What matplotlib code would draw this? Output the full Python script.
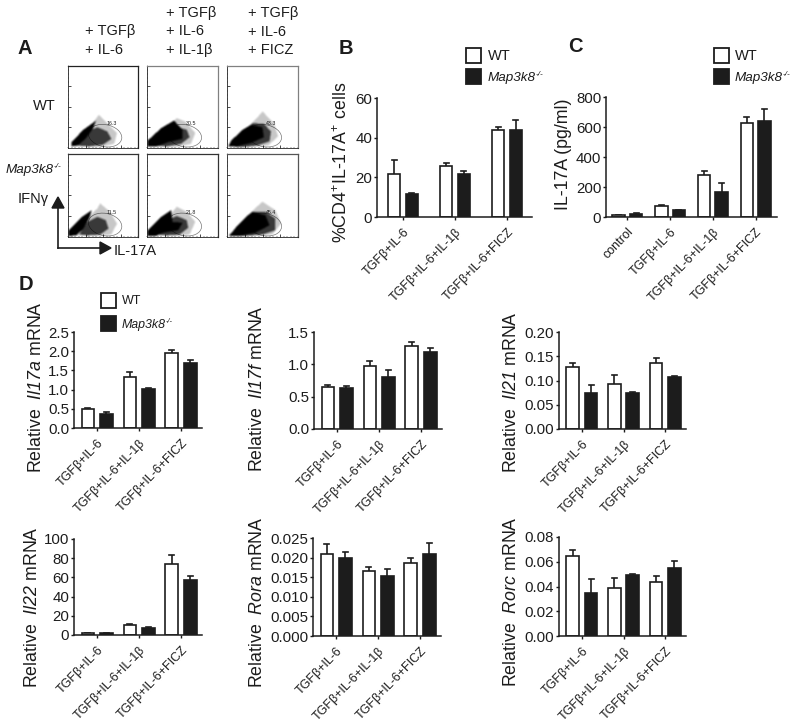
import matplotlib
matplotlib.use("Agg")
import matplotlib.pyplot as plt
from matplotlib.patches import Polygon, Ellipse, Rectangle
from matplotlib.path import Path
import numpy as np

plt.rcParams['font.family'] = ['Liberation Sans', 'DejaVu Sans']
plt.rcParams['mathtext.fontset'] = 'custom'
plt.rcParams['mathtext.rm'] = 'Liberation Sans'
plt.rcParams['mathtext.it'] = 'Liberation Sans:italic'
plt.rcParams['mathtext.cal'] = 'Liberation Sans:italic'
plt.rcParams['mathtext.default'] = 'regular'

INK = '#1c1c1c'

# category labels
groups3 = ['TGFβ+IL-6', 'TGFβ+IL-6+IL-1β', 'TGFβ+IL-6+FICZ']
groups4 = ['control'] + groups3

# bar heights and top of the error bars
b_wt = [21.5, 25.5, 44]
b_wt_top = [28.5, 27, 45.5]
b_ko = [11.5, 21.5, 44]
b_ko_top = [12, 23, 49]

c_wt = [12, 75, 283, 625]
c_wt_top = [15, 80, 305, 665]
c_ko = [22, 47, 170, 638]
c_ko_top = [25, 50, 230, 722]

il17a_wt = [0.50, 1.33, 1.95]
il17a_wt_top = [0.52, 1.45, 2.03]
il17a_ko = [0.37, 1.01, 1.70]
il17a_ko_top = [0.42, 1.05, 1.78]

il17f_wt = [0.65, 0.98, 1.29]
il17f_wt_top = [0.68, 1.05, 1.35]
il17f_ko = [0.64, 0.80, 1.19]
il17f_ko_top = [0.67, 0.91, 1.25]

il21_wt = [0.127, 0.093, 0.137]
il21_wt_top = [0.136, 0.112, 0.147]
il21_ko = [0.075, 0.075, 0.108]
il21_ko_top = [0.091, 0.076, 0.110]

il22_wt = [2, 10.5, 73.5]
il22_wt_top = [2.5, 11.5, 83]
il22_ko = [2, 7.5, 57.5]
il22_ko_top = [2.5, 8.5, 61]

rora_wt = [0.0210, 0.0165, 0.0187]
rora_wt_top = [0.0235, 0.0177, 0.0200]
rora_ko = [0.0200, 0.0152, 0.0208]
rora_ko_top = [0.0215, 0.0172, 0.0238]

rorc_wt = [0.065, 0.039, 0.0435]
rorc_wt_top = [0.0695, 0.047, 0.0485]
rorc_ko = [0.035, 0.049, 0.055]
rorc_ko_top = [0.046, 0.0505, 0.0605]

# flow panels: percentages in the gates and hand read outlines of the clouds
gate_values = ['16.3', '30.5', '43.3', '11.5', '21.8', '45.4']
flow_sparse = [
    [(.10, .02), (.30, .24), (.44, .40), (.56, .30), (.70, .18), (.66, .05), (.45, .01)],
    [(.03, .02), (.30, .26), (.42, .36), (.54, .32), (.68, .18), (.62, .05), (.40, .01)],
    [(.03, .02), (.30, .26), (.42, .36), (.50, .44), (.66, .30), (.72, .14), (.58, .03), (.30, .01)],
    [(.10, .02), (.30, .24), (.42, .34), (.46, .40), (.60, .30), (.70, .16), (.62, .03), (.40, .01)],
    [(.08, .02), (.30, .24), (.42, .36), (.56, .30), (.68, .18), (.60, .03), (.40, .01)],
    [(.03, .02), (.30, .26), (.42, .36), (.50, .42), (.68, .32), (.76, .16), (.64, .03), (.30, .01)],
]
flow_cloud = [
    [(.14, .03), (.28, .20), (.42, .25), (.56, .20), (.62, .11), (.50, .04), (.30, .02)],
    [(.06, .03), (.28, .21), (.42, .25), (.56, .22), (.60, .13), (.48, .05), (.28, .02)],
    [(.03, .02), (.20, .17), (.36, .30), (.52, .29), (.62, .20), (.60, .08), (.42, .03), (.20, .01)],
    [(.16, .03), (.28, .18), (.42, .24), (.54, .20), (.58, .10), (.46, .03), (.28, .02)],
    [(.14, .03), (.28, .20), (.42, .25), (.56, .20), (.58, .11), (.46, .03), (.28, .02)],
    [(.03, .02), (.22, .19), (.38, .30), (.54, .30), (.68, .22), (.68, .08), (.50, .03), (.20, .01)],
]
flow_dense = [
    [(.05, .02), (.05, .07), (.22, .22), (.40, .33), (.36, .24), (.26, .12), (.14, .03)],
    [(.01, .02), (.01, .09), (.20, .24), (.38, .33), (.50, .22), (.50, .11), (.30, .07), (.14, .02)],
    [(.02, .02), (.06, .09), (.22, .22), (.34, .28), (.50, .25), (.52, .13), (.34, .06), (.14, .02)],
    [(.01, .01), (.01, .08), (.20, .24), (.34, .32), (.30, .22), (.22, .10), (.12, .02)],
    [(.01, .01), (.01, .08), (.20, .24), (.34, .32), (.36, .18), (.50, .17), (.44, .08), (.22, .05), (.12, .01)],
    [(.03, .01), (.14, .13), (.28, .25), (.36, .30), (.54, .26), (.60, .14), (.40, .05), (.16, .01)],
]
flow_frame = ['#222222', '#808080', '#808080', '#333333', '#333333', '#555555']

fig = plt.figure(figsize=(8.0, 7.28), dpi=100)


def axes_px(left, top, right, bottom):
    return fig.add_axes([left / 800, 1 - bottom / 728, (right - left) / 800, (bottom - top) / 728])


def bar_panel(box, labels, wt, wt_top, ko, ko_top, ymax, yticks, yfmt, xlim, off, w):
    ax = axes_px(*box)
    x = np.arange(len(labels))
    ax.bar(x - off, wt, w, color='white', edgecolor=INK, linewidth=1.2, zorder=2)
    ax.bar(x + off, ko, w, color=INK, edgecolor=INK, linewidth=1.2, zorder=2)
    for xs, val, top in ((x - off, wt, wt_top), (x + off, ko, ko_top)):
        for xi, v, t in zip(xs, val, top):
            ax.plot([xi, xi], [v, t], color=INK, lw=1.2, zorder=1, solid_capstyle='butt')
            ax.plot([xi - w * 0.2, xi + w * 0.2], [t, t], color=INK, lw=1.2, zorder=1)
    ax.set_xlim(*xlim)
    ax.set_ylim(0, ymax)
    ax.set_yticks(yticks)
    ax.set_yticklabels([yfmt % t for t in yticks], fontsize=10.8, color=INK)
    ax.set_xticks(x)
    ax.set_xticklabels(labels, fontsize=9, rotation=46, ha='right', va='top',
                       rotation_mode='anchor', color=INK)
    ax.tick_params(axis='y', length=2.5, width=1, pad=1, color=INK)
    ax.tick_params(axis='x', length=2.5, width=1, pad=4, color=INK)
    for s in ('top', 'right'):
        ax.spines[s].set_visible(False)
    for s in ('left', 'bottom'):
        ax.spines[s].set_linewidth(1.1)
        ax.spines[s].set_color(INK)
    ax.patch.set_alpha(0)
    return ax


def cloud_image(i):
    # grey levels from the outlines, softened a little so the edges are not hard
    gx, gy = np.meshgrid((np.arange(140) + .5) / 140, (np.arange(164) + .5) / 164)
    pts = np.column_stack([gx.ravel(), gy.ravel()])
    level = np.zeros(gx.shape)
    for outline, v in ((flow_sparse[i], .22), (flow_cloud[i], .78), (flow_dense[i], 1.0)):
        level[Path(outline).contains_points(pts).reshape(gx.shape)] = v
    kernel = np.ones(5) / 5
    level = np.apply_along_axis(lambda r: np.convolve(r, kernel, mode='same'), 0, level)
    level = np.apply_along_axis(lambda r: np.convolve(r, kernel, mode='same'), 1, level)
    rgba = np.zeros(gx.shape + (4,))
    rgba[..., 3] = level
    return rgba


def flow_panel(box, i):
    ax = axes_px(*box)
    ax.add_patch(Ellipse((.53, .15), .48, .27, angle=-8, fill=False, ec='#777777', lw=0.5, zorder=1))
    ax.imshow(cloud_image(i), extent=(0, 1, 0, 1), origin='lower', aspect='auto',
              interpolation='bilinear', zorder=2)
    ax.set_xlim(0, 1)
    ax.set_ylim(0, 1)
    ax.text(.62, .30, gate_values[i], fontsize=3.8, ha='center', va='center', color=INK, zorder=5)
    ax.set_xticks([0.25, 0.5, 0.75])
    ax.set_yticks([0.25, 0.5, 0.75])
    ax.set_xticks(np.linspace(0, 1, 21), minor=True)
    ax.set_yticks(np.linspace(0, 1, 21), minor=True)
    ax.tick_params(which='major', direction='in', length=2, width=0.5, labelleft=False, labelbottom=False)
    ax.tick_params(which='minor', direction='in', length=1, width=0.3)
    for s in ('top', 'right'):
        ax.spines[s].set_color(flow_frame[i])
        ax.spines[s].set_linewidth(0.9)
    for s in ('left', 'bottom'):
        ax.spines[s].set_color('#222222')
        ax.spines[s].set_linewidth(0.6)


# A
flow_boxes = [(68, 66, 138, 148), (147, 66, 218, 148), (227, 66, 298, 148),
              (68, 154, 138, 237), (147, 154, 218, 237), (227, 154, 298, 237)]
for i, box in enumerate(flow_boxes):
    flow_panel(box, i)

# B, C
bar_panel((377, 98, 532, 217), groups3, b_wt, b_wt_top, b_ko, b_ko_top, 60,
          [0, 20, 40, 60], '%d', (-0.5, 2.48), 0.17, 0.23)
bar_panel((606, 97, 777, 217), groups4, c_wt, c_wt_top, c_ko, c_ko_top, 800,
          [0, 200, 400, 600, 800], '%d', (-0.5, 3.5), 0.205, 0.29)

# D
d_xlim = (-0.55, 2.5)
bar_panel((74, 332, 202, 428), groups3, il17a_wt, il17a_wt_top, il17a_ko, il17a_ko_top, 2.5,
          [0, 0.5, 1, 1.5, 2, 2.5], '%.1f', d_xlim, 0.22, 0.3)
bar_panel((314, 332, 442, 429), groups3, il17f_wt, il17f_wt_top, il17f_ko, il17f_ko_top, 1.5,
          [0, 0.5, 1, 1.5], '%.1f', d_xlim, 0.22, 0.3)
bar_panel((559, 332, 686, 429), groups3, il21_wt, il21_wt_top, il21_ko, il21_ko_top, 0.2,
          [0, 0.05, 0.1, 0.15, 0.2], '%.2f', d_xlim, 0.22, 0.3)
bar_panel((74, 539, 202, 635), groups3, il22_wt, il22_wt_top, il22_ko, il22_ko_top, 100,
          [0, 20, 40, 60, 80, 100], '%d', d_xlim, 0.22, 0.3)
bar_panel((313, 538, 441, 636), groups3, rora_wt, rora_wt_top, rora_ko, rora_ko_top, 0.025,
          [0, 0.005, 0.01, 0.015, 0.02, 0.025], '%.3f', d_xlim, 0.22, 0.3)
bar_panel((559, 537, 686, 636), groups3, rorc_wt, rorc_wt_top, rorc_ko, rorc_ko_top, 0.08,
          [0, 0.02, 0.04, 0.06, 0.08], '%.2f', d_xlim, 0.22, 0.3)

# everything else is placed in picture pixels on a see through overlay
over = fig.add_axes([0, 0, 1, 1], zorder=10)
over.set_xlim(0, 800)
over.set_ylim(728, 0)
over.axis('off')


def txt(x, y, s, size=10.5, **kw):
    kw.setdefault('ha', 'left')
    kw.setdefault('va', 'center')
    over.text(x, y, s, fontsize=size, color=INK, **kw)


def map3k8(x, y, size):
    # plain hyphens in the superscript, mathtext would turn them into long minus signs
    txt(x, y, 'Map3k8', size=size, fontstyle='italic')
    txt(x + size * 4.94, y - size * 0.4, '-/-', size=size * 0.6, fontstyle='italic')


for x, y, s in [(18, 48, 'A'), (339, 48, 'B'), (568, 46, 'C'), (19, 285, 'D')]:
    txt(x, y, s, size=14.5, fontweight='bold')

# column headers of A
txt(85, 31, '+ TGFβ')
txt(85, 50, '+ IL-6')
txt(166, 13, '+ TGFβ')
txt(166, 31, '+ IL-6')
txt(166, 50, '+ IL-1β')
txt(248, 13, '+ TGFβ')
txt(248, 32, '+ IL-6')
txt(248, 50, '+ FICZ')
txt(33, 106, 'WT')
map3k8(6, 170, 9.7)
txt(18, 199, 'IFNγ')
txt(114, 251, 'IL-17A', size=10.5)

over.plot([58, 58], [248, 205], color=INK, lw=1.2)
over.plot([58, 102], [248, 248], color=INK, lw=1.2)
over.add_patch(Polygon([(52, 208), (64, 208), (58, 197)], closed=True, fc=INK, ec=INK))
over.add_patch(Polygon([(100, 242), (100, 254), (111, 248)], closed=True, fc=INK, ec=INK))

# legends
legends = [(466, 48, 69, 488, 10.5, 9.7), (714, 48, 69, 735, 10.5, 9.7), (101, 293, 316, 122, 9, 8.9)]
for x, y1, y2, tx, size, ksize in legends:
    over.add_patch(Rectangle((x, y1), 15, 15, fc='white', ec=INK, lw=1.3))
    over.add_patch(Rectangle((x, y2), 15, 15, fc=INK, ec=INK, lw=1.3))
    txt(tx, y1 + 8, 'WT', size=size)
    map3k8(tx, y2 + 9, ksize)

# y axis titles
ylabels = [
    (342, 162, r'%CD4$^{+}$IL-17A$^{+}$ cells'),
    (563, 154, 'IL-17A (pg/ml)'),
    (37, 387, r'Relative  $\mathcal{Il17a}$ mRNA'),
    (257, 389, r'Relative  $\mathcal{Il17f}$ mRNA'),
    (512, 392, r'Relative  $\mathcal{Il21}$ mRNA'),
    (33, 607, r'Relative  $\mathcal{Il22}$ mRNA'),
    (257, 602, r'Relative  $\mathcal{Rora}$ mRNA'),
    (512, 602, r'Relative  $\mathcal{Rorc}$ mRNA'),
]
for x, y, s in ylabels:
    txt(x, y, s, size=12.8, rotation=90, ha='center')

fig.savefig('out.png', dpi=100)
